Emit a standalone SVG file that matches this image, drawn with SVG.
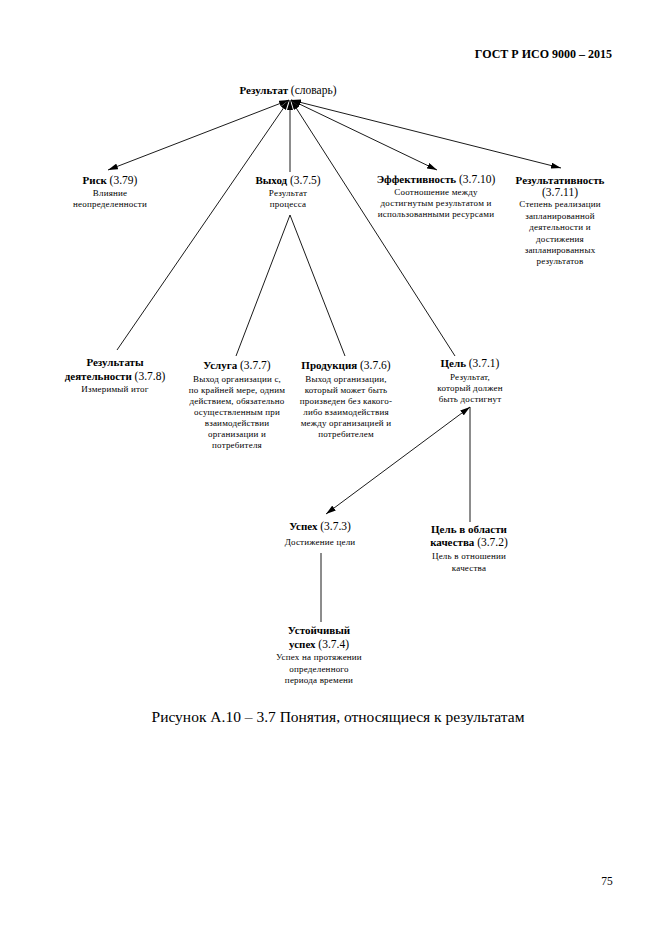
<svg xmlns="http://www.w3.org/2000/svg" width="661" height="935" viewBox="0 0 661 935">
<style>
text{font-family:"Liberation Serif","Times New Roman",serif;fill:#000;text-anchor:middle}
.t{font-size:11px;font-weight:bold}
.n{font-weight:normal;font-size:11.5px}
.d{font-size:9px;letter-spacing:0.2px}
.c{stroke:#000;stroke-width:0.9;fill:none}
</style>
<defs>
<marker id="ah" viewBox="0 0 10 6" refX="10" refY="3" markerWidth="10" markerHeight="6" markerUnits="userSpaceOnUse" orient="auto-start-reverse">
<path d="M0,0 L10,3 L0,6 Z" fill="#000"/>
</marker>
</defs>
<rect width="661" height="935" fill="#fff"/>
<text x="612" y="58" style="font-size:12px;font-weight:bold;text-anchor:end">ГОСТ Р ИСО 9000 – 2015</text>
<g id="connectors">
<line class="c" x1="289" y1="100" x2="108" y2="170" marker-start="url(#ah)" marker-end="url(#ah)"/>
<line class="c" x1="290" y1="100" x2="290" y2="172" marker-start="url(#ah)"/>
<line class="c" x1="289" y1="100" x2="117" y2="350" marker-start="url(#ah)"/>
<line class="c" x1="291" y1="100" x2="455" y2="356" marker-start="url(#ah)"/>
<line class="c" x1="291" y1="100" x2="437" y2="170" marker-start="url(#ah)" marker-end="url(#ah)"/>
<line class="c" x1="291" y1="100" x2="561" y2="168" marker-start="url(#ah)" marker-end="url(#ah)"/>
<line class="c" x1="290" y1="215" x2="236" y2="356"/>
<line class="c" x1="290" y1="215" x2="345" y2="356"/>
<line class="c" x1="470" y1="407" x2="326" y2="514" marker-start="url(#ah)" marker-end="url(#ah)"/>
<line class="c" x1="470" y1="407" x2="470" y2="522"/>
<line class="c" x1="321" y1="553" x2="321" y2="622"/>
</g>
<g id="n-result">
<text x="288" y="94" class="t">Результат <tspan class="n">(словарь)</tspan></text>
</g>
<g id="n-risk">
<text x="110" y="184" class="t">Риск <tspan class="n">(3.79)</tspan></text>
<text x="110" y="196" class="d">Влияние</text>
<text x="110" y="207" class="d">неопределенности</text>
</g>
<g id="n-output">
<text x="288" y="184" class="t">Выход <tspan class="n">(3.7.5)</tspan></text>
<text x="288" y="196" class="d">Результат</text>
<text x="288" y="207" class="d">процесса</text>
</g>
<g id="n-efficiency">
<text x="436" y="183" class="t">Эффективность <tspan class="n">(3.7.10)</tspan></text>
<text x="436" y="195" class="d">Соотношение между</text>
<text x="436" y="206" class="d">достигнутым результатом и</text>
<text x="436" y="217" class="d">использованными ресурсами</text>
</g>
<g id="n-effectiveness">
<text x="560" y="184" class="t">Результативность</text>
<text x="560" y="196" class="t"><tspan class="n">(3.7.11)</tspan></text>
<text x="560" y="207" class="d">Степень реализации</text>
<text x="560" y="219" class="d">запланированной</text>
<text x="560" y="230" class="d">деятельности и</text>
<text x="560" y="242" class="d">достижения</text>
<text x="560" y="253" class="d">запланированных</text>
<text x="560" y="264" class="d">результатов</text>
</g>
<g id="n-performance">
<text x="115" y="366" class="t">Результаты</text>
<text x="115" y="380" class="t">деятельности <tspan class="n">(3.7.8)</tspan></text>
<text x="115" y="392" class="d">Измеримый итог</text>
</g>
<g id="n-service">
<text x="237" y="369" class="t">Услуга <tspan class="n">(3.7.7)</tspan></text>
<text x="237" y="382" class="d">Выход организации с,</text>
<text x="237" y="393" class="d">по крайней мере, одним</text>
<text x="237" y="404" class="d">действием, обязательно</text>
<text x="237" y="415" class="d">осуществленным при</text>
<text x="237" y="426" class="d">взаимодействии</text>
<text x="237" y="437" class="d">организации и</text>
<text x="237" y="448" class="d">потребителя</text>
</g>
<g id="n-product">
<text x="346" y="369" class="t">Продукция <tspan class="n">(3.7.6)</tspan></text>
<text x="346" y="382" class="d">Выход организации,</text>
<text x="346" y="393" class="d">который может быть</text>
<text x="346" y="404" class="d">произведен без какого-</text>
<text x="346" y="415" class="d">либо взаимодействия</text>
<text x="346" y="426" class="d">между организацией и</text>
<text x="346" y="437" class="d">потребителем</text>
</g>
<g id="n-objective">
<text x="470" y="367" class="t">Цель <tspan class="n">(3.7.1)</tspan></text>
<text x="470" y="380" class="d">Результат,</text>
<text x="470" y="391" class="d">который должен</text>
<text x="470" y="402" class="d">быть достигнут</text>
</g>
<g id="n-success">
<text x="320" y="530" class="t">Успех <tspan class="n">(3.7.3)</tspan></text>
<text x="320" y="545" class="d">Достижение цели</text>
</g>
<g id="n-quality-objective">
<text x="469" y="533" class="t">Цель в области</text>
<text x="469" y="546" class="t">качества <tspan class="n">(3.7.2)</tspan></text>
<text x="469" y="559" class="d">Цель в отношении</text>
<text x="469" y="571" class="d">качества</text>
</g>
<g id="n-sustained-success">
<text x="319" y="634" class="t">Устойчивый</text>
<text x="319" y="648" class="t">успех <tspan class="n">(3.7.4)</tspan></text>
<text x="319" y="660" class="d">Успех на протяжении</text>
<text x="319" y="672" class="d">определенного</text>
<text x="319" y="683" class="d">периода времени</text>
</g>
<text x="338" y="722" style="font-size:15.5px">Рисунок А.10 – 3.7 Понятия, относящиеся к результатам</text>
<text x="607" y="885" style="font-size:11.5px">75</text>
</svg>
